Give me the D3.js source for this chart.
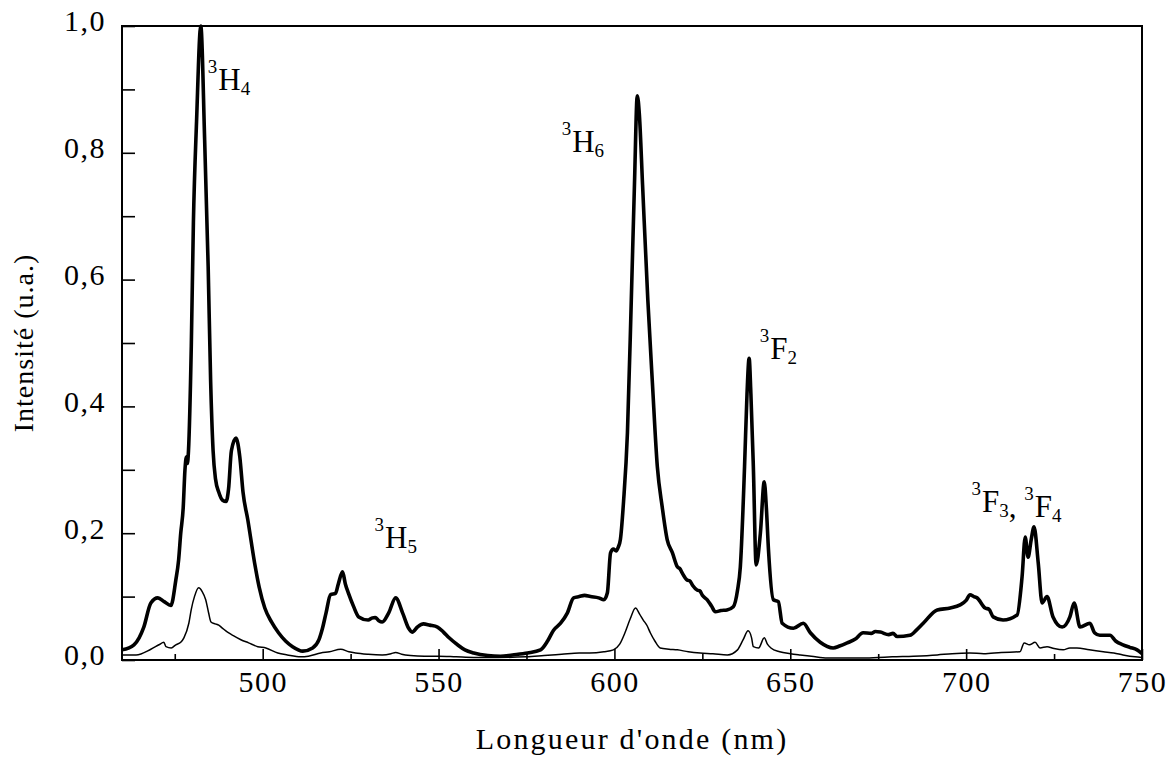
<!DOCTYPE html>
<html>
<head>
<meta charset="utf-8">
<script src="https://cdn.jsdelivr.net/npm/d3@7"></script>
<style>
  html, body { margin: 0; padding: 0; background: #fff; }
  svg { display: block; }
  text { font-family: "Liberation Serif", "Times New Roman", serif; fill: #000; }
</style>
</head>
<body>
<svg id="chart" width="1172" height="757"></svg>
<script>
// ---- data ----
const xTicksMajor = [500, 550, 600, 650, 700, 750];
const xTicksMinor = [475, 525, 575, 625, 675, 725];
const yTicksMajor = [0, 0.2, 0.4, 0.6, 0.8, 1.0];
const yTickLabels = ["0,0", "0,2", "0,4", "0,6", "0,8", "1,0"];
const yTicksMinor = [0.1, 0.3, 0.5, 0.7, 0.9];
const xTitle = "Longueur d'onde (nm)";
const yTitle = "Intensité (u.a.)";

// thick spectrum: wavelength (nm)
const thickX = [460,463.4,466.2,468.2,470.2,472,473.9,475.3,476.1,476.7,477.4,477.9,478.3,478.6,478.9,479.7,480.3,481.2,482.4,483.5,484.5,485.2,485.9,486.6,487.5,488.6,489.6,490.3,491.1,492.4,493.5,494.4,495.8,497.7,499,500.6,502.5,504.5,506.5,508.5,511.4,514.2,516,517,518,519.3,520.7,521.5,522.7,523.5,524.4,525.8,527.3,530,531,532,533,534,535.8,537.8,539.8,541.5,542.5,544,545.7,547.5,549.7,551.4,553,555.4,557.5,560,564,567.6,571,575.3,579,581,582.7,584.7,586.6,588.4,590,591.5,593.2,595.5,597,598,598.9,599.7,600.5,601.1,601.7,602.6,603.7,604.8,605.7,606.5,607.1,608,609.5,610.8,612.2,613.6,615,616.5,617.9,618.6,619.3,620.7,621.4,622.2,623.6,624.3,625,626.4,627.6,628.7,630.3,632,633.8,635,635.8,637,637.7,638.3,638.8,639.5,640.3,641.5,642.6,643.2,643.8,645.2,646.6,647.7,650.9,653.7,655.7,658.5,662.2,664,666.2,668.5,670.7,673,674.2,675.6,678,679.2,680.4,684,686,687.8,691.8,695.5,698.3,700,701.1,702.2,703.1,705.4,706.5,707.7,710.5,714.5,715.9,716.8,717.6,718.5,719.3,720.5,721.6,723,724.7,727.3,729.5,730.7,732.4,735.2,736.5,738,740.9,742.5,744.6,746.5,748.6,750];
// thick spectrum: intensity
const thickY = [0.016,0.024,0.052,0.09,0.098,0.092,0.086,0.126,0.158,0.2,0.24,0.3,0.32,0.31,0.33,0.495,0.69,0.85,1.0,0.82,0.62,0.44,0.33,0.285,0.265,0.252,0.25,0.27,0.33,0.35,0.32,0.265,0.22,0.153,0.115,0.082,0.06,0.043,0.03,0.021,0.014,0.019,0.032,0.05,0.074,0.103,0.105,0.12,0.139,0.12,0.105,0.085,0.068,0.063,0.066,0.067,0.062,0.06,0.074,0.098,0.074,0.05,0.044,0.052,0.057,0.055,0.052,0.044,0.035,0.024,0.016,0.011,0.007,0.006,0.008,0.011,0.016,0.03,0.047,0.058,0.074,0.098,0.1,0.102,0.1,0.098,0.095,0.106,0.169,0.175,0.172,0.178,0.19,0.25,0.358,0.568,0.75,0.89,0.86,0.75,0.568,0.437,0.305,0.241,0.19,0.169,0.147,0.144,0.137,0.126,0.125,0.118,0.11,0.109,0.102,0.095,0.085,0.076,0.078,0.079,0.084,0.11,0.147,0.305,0.42,0.476,0.42,0.305,0.15,0.2,0.281,0.24,0.174,0.095,0.092,0.058,0.05,0.058,0.043,0.028,0.019,0.022,0.027,0.033,0.043,0.042,0.045,0.044,0.04,0.042,0.037,0.039,0.048,0.058,0.079,0.082,0.087,0.094,0.103,0.1,0.098,0.082,0.08,0.068,0.063,0.071,0.131,0.194,0.162,0.19,0.21,0.153,0.09,0.1,0.068,0.052,0.068,0.09,0.052,0.058,0.043,0.039,0.039,0.03,0.024,0.02,0.016,0.01];

// thin spectrum: wavelength (nm)
const thinX = [460,464,468.2,470.5,471.9,472.5,474,475.3,476.7,477.6,479,479.7,480.6,481.8,482.8,483.8,484.6,485.3,486.5,487.5,488.6,490,491.5,493.8,496,498.6,500.9,504.3,507,510.8,513,516.5,519,522.2,524.5,526.4,530,534,536.5,537.8,539.5,542,546,550,555,560,567,575,580,585,590,593,597,599.7,601.5,603,604.5,606,607.2,608.2,609.3,610.2,611.5,613,615.5,617.9,621,624.4,628,632.1,635,636.6,638,639,639.5,641,642.6,643.5,644.5,647,650,652.8,656,660.5,665,670,675,679,685,691.8,696,701,705,710,715.3,716.5,718,719.6,721,723,725,727.6,729.5,731.5,735,739,742,744.6,748,750];
// thin spectrum: intensity
const thinY = [0.008,0.008,0.017,0.024,0.028,0.021,0.019,0.024,0.028,0.035,0.058,0.08,0.1,0.114,0.108,0.095,0.075,0.06,0.057,0.055,0.05,0.044,0.039,0.032,0.027,0.021,0.019,0.011,0.008,0.005,0.006,0.011,0.013,0.017,0.013,0.011,0.009,0.008,0.01,0.012,0.009,0.007,0.006,0.006,0.005,0.004,0.004,0.005,0.007,0.009,0.011,0.011,0.013,0.016,0.025,0.043,0.065,0.082,0.072,0.063,0.054,0.043,0.03,0.019,0.017,0.016,0.013,0.011,0.01,0.008,0.016,0.032,0.046,0.035,0.021,0.019,0.035,0.025,0.019,0.013,0.01,0.008,0.006,0.003,0.003,0.003,0.004,0.005,0.006,0.008,0.01,0.011,0.01,0.012,0.013,0.027,0.024,0.028,0.019,0.021,0.018,0.016,0.019,0.019,0.016,0.013,0.011,0.008,0.005,0.004];

// peak annotations: superscript, letter, subscript, anchor (nm, intensity)
const labelParts = [
  [["3","H","4"]],
  [["3","H","6"]],
  [["3","H","5"]],
  [["3","F","2"]],
  [["3","F","3"], [", "], ["3","F","4"]]
];
const labelNm = [484.4, 585.0, 531.8, 641.3, 701.5];
const labelVal = [0.899, 0.801, 0.177, 0.475, 0.233];

// ---- drawing ----
(function () {
const svg = d3.select("#chart");
const pl = 122, pr = 1142, pt = 26, pb = 660;
const x = d3.scaleLinear().domain([460, 750]).range([pl, pr]);
const y = d3.scaleLinear().domain([0, 1]).range([pb, pt]);

const fs = 31, fsSmall = 19;

// minor x ticks
svg.append("g").attr("transform", `translate(0,${pb})`)
  .call(d3.axisBottom(x).tickValues(xTicksMinor).tickSize(-6).tickFormat(""))
  .call(g => g.select(".domain").remove())
  .call(g => g.selectAll("line").attr("stroke", "#000").attr("stroke-width", 1.6));
// major x ticks
svg.append("g").attr("transform", `translate(0,${pb})`)
  .call(d3.axisBottom(x).tickValues(xTicksMajor).tickSize(-11).tickPadding(11).tickFormat(d3.format("d")))
  .call(g => g.select(".domain").remove())
  .call(g => g.selectAll("line").attr("stroke", "#000").attr("stroke-width", 1.6))
  .call(g => g.selectAll("text").attr("font-size", 30).attr("font-family", "Liberation Serif").attr("letter-spacing", "1.5px").attr("fill", "#000"));

// minor y ticks
svg.append("g").attr("transform", `translate(${pl},0)`)
  .call(d3.axisLeft(y).tickValues(yTicksMinor).tickSize(-13).tickFormat(""))
  .call(g => g.select(".domain").remove())
  .call(g => g.selectAll("line").attr("stroke", "#000").attr("stroke-width", 1.6));
// major y ticks
svg.append("g").attr("transform", `translate(${pl},0)`)
  .call(d3.axisLeft(y).tickValues(yTicksMajor).tickSize(-13).tickPadding(16).tickFormat((d, i) => yTickLabels[i]))
  .call(g => g.select(".domain").remove())
  .call(g => g.selectAll("line").attr("stroke", "#000").attr("stroke-width", 1.6))
  .call(g => g.selectAll("text").attr("font-size", 30).attr("font-family", "Liberation Serif").attr("letter-spacing", "1.5px").attr("dy", "0.16em").attr("fill", "#000"));

// frame
svg.append("rect").attr("x", pl).attr("y", pt)
  .attr("width", pr - pl).attr("height", pb - pt)
  .attr("fill", "none").attr("stroke", "#000").attr("stroke-width", 2);

// curves
svg.append("clipPath").attr("id", "clip")
  .append("rect").attr("x", pl).attr("y", pt - 2).attr("width", pr - pl).attr("height", pb - pt + 2);

const line = d3.line().x(d => x(d[0])).y(d => y(d[1])).curve(d3.curveMonotoneX);
const thin = thinX.map((v, i) => [v, thinY[i]]);
const thick = thickX.map((v, i) => [v, thickY[i]]);

svg.append("path").datum(thin).attr("d", line)
  .attr("fill", "none").attr("stroke", "#000").attr("stroke-width", 1.5)
  .attr("stroke-linejoin", "round").attr("clip-path", "url(#clip)");
svg.append("path").datum(thick).attr("d", line)
  .attr("fill", "none").attr("stroke", "#000").attr("stroke-width", 3.6)
  .attr("stroke-linejoin", "round").attr("clip-path", "url(#clip)");

// annotations
labelParts.forEach((parts, i) => {
  const t = svg.append("text")
    .attr("x", x(labelNm[i])).attr("y", y(labelVal[i]))
    .attr("font-size", fs);
  parts.forEach(p => {
    if (p.length === 1) {
      t.append("tspan").attr("font-size", fs).text(p[0]);
    } else {
      t.append("tspan").attr("font-size", fsSmall).attr("dy", -17).text(p[0]);
      t.append("tspan").attr("font-size", fs).attr("dy", 17).attr("dx", 1).text(p[1]);
      t.append("tspan").attr("font-size", fsSmall).attr("dy", 5).text(p[2]);
      t.append("tspan").attr("font-size", fsSmall).attr("dy", -5).text("");
    }
  });
});

// axis titles
svg.append("text")
  .attr("x", (pl + pr) / 2).attr("y", 749)
  .attr("text-anchor", "middle").attr("font-size", 30).attr("letter-spacing", "2.2px")
  .text(xTitle);
svg.append("text")
  .attr("transform", `translate(33,${(pt + pb) / 2}) rotate(-90)`)
  .attr("text-anchor", "middle").attr("font-size", 28).attr("letter-spacing", "1px")
  .text(yTitle);
})();
</script>
</body>
</html>
